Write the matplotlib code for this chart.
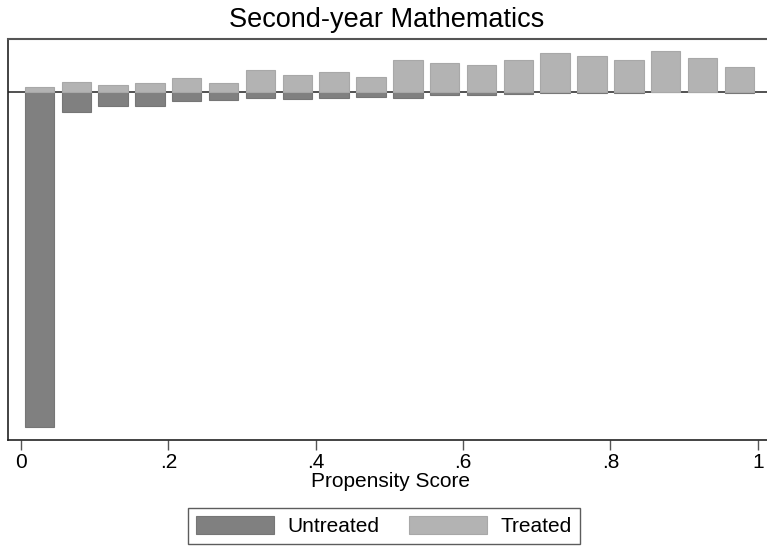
import numpy as np
import matplotlib
matplotlib.use("Agg")
import matplotlib.pyplot as plt

plt.rcParams['font.family'] = ['Liberation Sans', 'DejaVu Sans']

# bin centres of the propensity score histogram (20 bins of .05)
bin_centers = [0.025 + 0.05 * k for k in range(20)]
# heights (arbitrary frequency units)
treated = [5, 10, 6.7, 8.3, 13.3, 8.3, 22, 16.7, 20, 15,
           31.7, 28.3, 27, 31.7, 38.7, 35.3, 31.7, 40.3, 33.3, 25]
untreated = [335, 20, 14, 14.7, 9.7, 8, 6, 7, 6, 5,
             6, 3.7, 3.7, 2.7, 1.3, 1.3, 1.3, 0.7, 0.7, 1]
x_ticks = [0, 0.2, 0.4, 0.6, 0.8, 1.0]
x_tick_labels = ['0', '.2', '.4', '.6', '.8', '1']

W, H = 767, 547
fig = plt.figure(figsize=(W / 100, H / 100), dpi=100)
ax = fig.add_axes([8 / W, (H - 440) / H, (W - 8) / W, 401 / H])

ax.axhline(0, color='#333333', lw=1.2, zorder=1)
ax.bar(bin_centers, [-u for u in untreated], width=0.04, color='#808080',
       edgecolor='#767676', lw=0.8, zorder=2, label='Untreated')
ax.bar(bin_centers, treated, width=0.04, color='#b3b3b3',
       edgecolor='#a8a8a8', lw=0.8, zorder=2, label='Treated')

ax.set_xlim(-0.01765, 1.0126)
ax.set_ylim(-348.3, 52.7)
ax.set_yticks([])
ax.set_xticks(x_ticks)
ax.set_xticklabels(x_tick_labels, fontsize=15)
ax.tick_params(axis='x', length=7, width=1, color='#555555', pad=2)
for side in ['left', 'bottom']:
    ax.spines[side].set_color('#222222')
    ax.spines[side].set_linewidth(1.2)
ax.spines['top'].set_color('#555555')
ax.spines['top'].set_linewidth(1.5)
ax.spines['right'].set_visible(False)

ax.set_xlabel('Propensity Score', fontsize=15, va='top')
ax.xaxis.set_label_coords(0.5046, -0.081)
fig.text(387 / W, 1 - 20 / H, 'Second-year Mathematics', ha='center', va='center', fontsize=19.5)

leg = fig.legend(*ax.get_legend_handles_labels(), loc='center',
                 bbox_to_anchor=(384 / W, 1 - 526 / H),
                 ncol=2, fontsize=15, frameon=True, fancybox=False,
                 edgecolor='#333333', handlelength=3.75, handleheight=0.95,
                 columnspacing=1.4, handletextpad=0.65, borderpad=0.4,
                 borderaxespad=0)
leg.get_frame().set_linewidth(1)

fig.savefig('out.png', dpi=100)
